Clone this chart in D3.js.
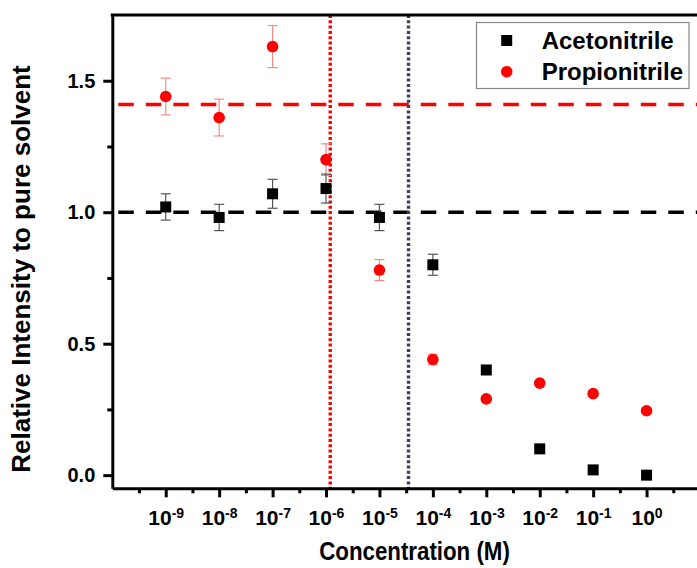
<!DOCTYPE html>
<html>
<head>
<meta charset="utf-8">
<script src="https://cdn.jsdelivr.net/npm/d3@7"></script>
<style>
  body { margin: 0; background: #fff; }
  svg { display: block; font-family: "Liberation Sans", Arial, sans-serif; font-weight: bold; }
</style>
</head>
<body>
<div id="chart"></div>
<script>
"use strict";

// concentrations (M), one per decade
let concentrations = [1e-9, 1e-8, 1e-7, 1e-6, 1e-5, 1e-4, 1e-3, 1e-2, 1e-1, 1e0];
let tickExponents = ["-9", "-8", "-7", "-6", "-5", "-4", "-3", "-2", "-1", "0"];

// relative intensity, acetonitrile
let acetoValues = [1.02, 0.98, 1.07, 1.09, 0.98, 0.80, 0.40, 0.10, 0.02, 0.00];
let acetoErrors = [0.05, 0.05, 0.055, 0.055, 0.05, 0.04, 0.01, 0.01, 0.01, 0.01];

// relative intensity, propionitrile
let propioValues = [1.44, 1.36, 1.63, 1.20, 0.78, 0.44, 0.29, 0.35, 0.31, 0.245];
let propioErrors = [0.07, 0.07, 0.08, 0.06, 0.04, 0.02, 0.01, 0.01, 0.01, 0.01];

// reference levels
let acetoBaseline = 1.0;
let propioBaseline = 1.41;
let propioCutoff = 1.2e-6;
let acetoCutoff = 3.5e-5;

let yMajorTicks = [0, 0.5, 1.0, 1.5];
let yMinorTicks = [0.25, 0.75, 1.25];
let xMinorTicks = [-9.5, -8.5, -7.5, -6.5, -5.5, -4.5, -3.5, -2.5, -1.5, -0.5, 0.5].map(function(e) { return Math.pow(10, e); });

var width = 697,
    height = 568,
    plotLeft = 112.3,
    plotRight = 700,
    plotTop = 15,
    plotBottom = 488.3;

var xScale = d3.scaleLog().domain([1e-10, 1e1]).range([plotLeft, plotRight]);
var yScale = d3.scaleLinear().domain([-0.05, 1.75]).range([plotBottom, plotTop]);

var svg = d3.select('#chart').append('svg')
  .attr('width', width)
  .attr('height', height);

// reference lines
var period = 27.5;
svg.append('line')
  .attr('x1', plotLeft).attr('x2', width)
  .attr('y1', yScale(propioBaseline)).attr('y2', yScale(propioBaseline))
  .attr('stroke', '#ff0000').attr('stroke-width', 3.5)
  .attr('stroke-dasharray', '15.5,12').attr('stroke-dashoffset', period - 6);

svg.append('line')
  .attr('x1', plotLeft).attr('x2', width)
  .attr('y1', yScale(acetoBaseline)).attr('y2', yScale(acetoBaseline))
  .attr('stroke', '#000').attr('stroke-width', 3.5)
  .attr('stroke-dasharray', '15.5,12').attr('stroke-dashoffset', period - 6);

svg.append('line')
  .attr('x1', xScale(propioCutoff)).attr('x2', xScale(propioCutoff))
  .attr('y1', plotTop).attr('y2', plotBottom)
  .attr('stroke', '#ff0000').attr('stroke-width', 3.4)
  .attr('stroke-dasharray', '3,2.3');

svg.append('line')
  .attr('x1', xScale(acetoCutoff)).attr('x2', xScale(acetoCutoff))
  .attr('y1', plotTop).attr('y2', plotBottom)
  .attr('stroke', '#34445a').attr('stroke-width', 3.4)
  .attr('stroke-dasharray', '3,2.3');

// error bars
function drawErrors(values, errors, color) {
  var g = svg.append('g').attr('stroke', color).attr('stroke-width', 1.2).attr('fill', 'none');
  values.forEach(function(v, i) {
    var cx = xScale(concentrations[i]);
    var y1 = yScale(v + errors[i]), y2 = yScale(v - errors[i]);
    g.append('line').attr('x1', cx).attr('x2', cx).attr('y1', y1).attr('y2', y2);
    g.append('line').attr('x1', cx - 5).attr('x2', cx + 5).attr('y1', y1).attr('y2', y1);
    g.append('line').attr('x1', cx - 5).attr('x2', cx + 5).attr('y1', y2).attr('y2', y2);
  });
}
drawErrors(propioValues, propioErrors, '#f58a8a');
drawErrors(acetoValues, acetoErrors, '#555');

// markers
var sq = 11;
svg.append('g').selectAll('rect').data(acetoValues)
  .enter().append('rect')
    .attr('x', function(d, i) { return xScale(concentrations[i]) - sq / 2; })
    .attr('y', function(d) { return yScale(d) - sq / 2; })
    .attr('width', sq).attr('height', sq)
    .style('fill', '#000');

svg.append('g').selectAll('circle').data(propioValues)
  .enter().append('circle')
    .attr('cx', function(d, i) { return xScale(concentrations[i]); })
    .attr('cy', function(d) { return yScale(d); })
    .attr('r', 5.8)
    .style('fill', '#ff0000');

// axes
var xAxis = svg.append('g')
  .attr('transform', 'translate(0,' + plotBottom + ')')
  .call(d3.axisBottom(xScale).tickValues(concentrations).tickSize(9).tickSizeOuter(0).tickFormat(''));

svg.append('g')
  .attr('transform', 'translate(0,' + plotBottom + ')')
  .call(d3.axisBottom(xScale).tickValues(xMinorTicks).tickSize(5).tickSizeOuter(0).tickFormat(''))
  .select('.domain').remove();

xAxis.selectAll('.tick text')
  .attr('y', 22)
  .attr('dy', '0.71em')
  .style('font-size', '21px')
  .style('font-family', '"Liberation Sans", Arial, sans-serif')
  .style('font-weight', 'bold')
  .attr('fill', '#000')
  .each(function(d, i) {
    var t = d3.select(this).text('10');
    t.append('tspan')
      .attr('dy', '-0.5em')
      .style('font-size', '14px')
      .text(tickExponents[i]);
  });

var yAxis = svg.append('g')
  .attr('transform', 'translate(' + plotLeft + ',0)')
  .call(d3.axisLeft(yScale).tickValues(yMajorTicks).tickSize(9).tickPadding(8).tickSizeOuter(0).tickFormat(d3.format('.1f')));

svg.append('g')
  .attr('transform', 'translate(' + plotLeft + ',0)')
  .call(d3.axisLeft(yScale).tickValues(yMinorTicks).tickSize(5).tickSizeOuter(0).tickFormat(''))
  .select('.domain').remove();

yAxis.selectAll('.tick text')
  .style('font-size', '20px')
  .style('font-family', '"Liberation Sans", Arial, sans-serif')
  .style('font-weight', 'bold')
  .attr('fill', '#000');

svg.selectAll('.domain, .tick line').attr('stroke', '#000').attr('stroke-width', 3);

// top frame line
svg.append('line')
  .attr('x1', plotLeft - 1.5).attr('x2', width)
  .attr('y1', plotTop).attr('y2', plotTop)
  .attr('stroke', '#000').attr('stroke-width', 3);

// axis titles (x title drawn a bit taller than wide)
svg.append('text')
  .attr('transform', 'translate(414.5,560) scale(1,1.13)')
  .attr('text-anchor', 'middle')
  .style('font-size', '22.3px')
  .text('Concentration (M)');

svg.append('text')
  .attr('transform', 'translate(29.5,269) rotate(-90)')
  .attr('text-anchor', 'middle')
  .style('font-size', '26px')
  .text('Relative Intensity to pure solvent');

// legend
var legend = svg.append('g');
legend.append('rect')
  .attr('x', 476.5).attr('y', 22.5)
  .attr('width', 212.5).attr('height', 66)
  .attr('fill', '#fff').attr('stroke', '#888').attr('stroke-width', 1.2);
legend.append('rect')
  .attr('x', 506.7 - sq / 2).attr('y', 40.5 - sq / 2)
  .attr('width', sq).attr('height', sq).style('fill', '#000');
legend.append('circle')
  .attr('cx', 506.7).attr('cy', 71.7).attr('r', 5.8).style('fill', '#ff0000');
legend.append('text')
  .attr('x', 541.7).attr('y', 49.3)
  .style('font-size', '24px')
  .text('Acetonitrile');
legend.append('text')
  .attr('x', 541.7).attr('y', 80)
  .style('font-size', '24px')
  .text('Propionitrile');
</script>
</body>
</html>
